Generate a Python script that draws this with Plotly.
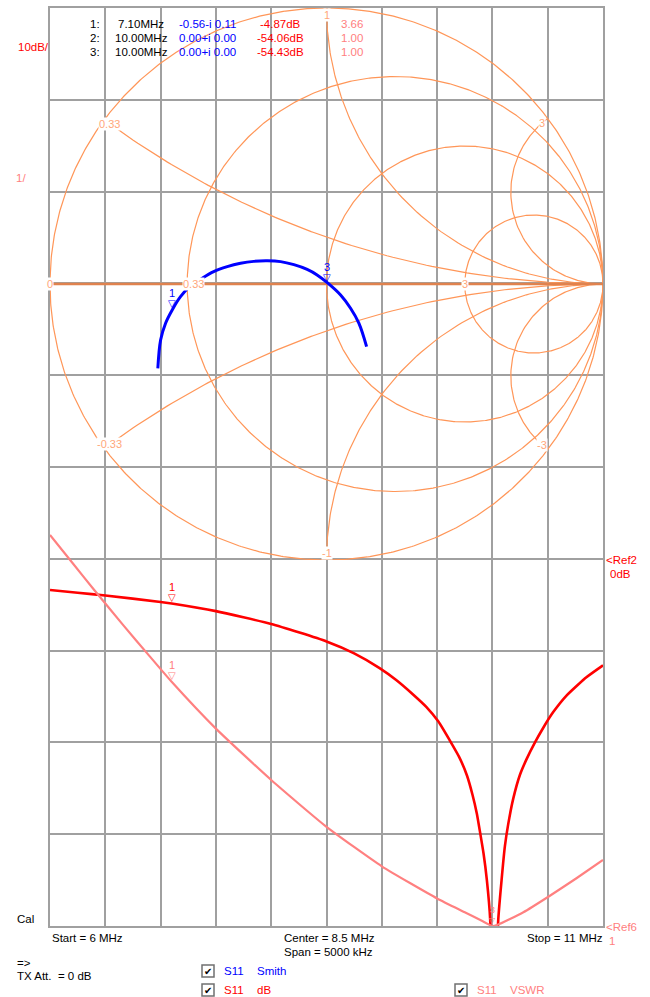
import numpy as np
import plotly.graph_objects as go

# ---------------- data ----------------
# S11 return loss (dB) vs frequency (MHz)
freq_db = [6.0, 6.25, 6.5, 7.0, 7.1, 7.5, 8.0, 8.5, 8.75, 8.98, 9.13, 9.285, 9.4, 9.51, 9.63, 9.70,
           9.77, 9.82, 9.86, 9.89, 9.92, 9.95, 9.98, 10.0, 10.053, 10.083, 10.113, 10.143, 10.189,
           10.25, 10.31, 10.385, 10.46, 10.55, 10.67, 10.85, 11.0]
s11_db = [-3.4, -3.7, -4.0, -4.7, -4.87, -5.7, -7.1, -9.0, -10.3, -11.9, -13.2, -14.8, -16.1, -17.7,
          -20.1, -21.6, -23.6, -25.7, -27.8, -29.9, -32.1, -35.0, -39.3, -54.06, -39.3, -35.0,
          -31.3, -28.9, -26.1, -23.5, -21.8, -20.0, -18.4, -16.7, -14.9, -12.9, -11.6]

# S11 VSWR vs frequency (MHz)
freq_vswr = [6.0, 6.2, 6.4, 6.66, 6.9, 7.1, 7.5, 8.0, 8.5, 9.0, 9.5, 9.75, 9.9, 10.0,
             10.04, 10.28, 10.52, 10.76, 11.0]
vswr = [5.26, 4.96, 4.66, 4.28, 3.94, 3.66, 3.15, 2.59, 2.08, 1.65, 1.30, 1.15, 1.06, 1.0,
        1.01, 1.15, 1.33, 1.52, 1.72]

# S11 reflection coefficient on the Smith chart
smith_freq = [6.0, 6.5, 6.85, 7.1, 7.45, 7.75, 7.95, 8.2, 8.45, 8.65, 8.9, 9.05, 9.28, 9.47,
              9.68, 9.8, 10.0, 10.2, 10.45, 10.7, 11.0]
gamma_re = [-0.610, -0.600, -0.582, -0.558, -0.528, -0.492, -0.456, -0.408, -0.359, -0.311,
            -0.263, -0.214, -0.166, -0.118, -0.070, -0.034, 0.005, 0.051, 0.087, 0.117, 0.145]
gamma_im = [-0.306, -0.203, -0.142, -0.094, -0.046, -0.007, 0.017, 0.045, 0.063, 0.075,
            0.082, 0.084, 0.081, 0.070, 0.053, 0.033, 0.003, -0.040, -0.088, -0.142, -0.227]

# marker table
marker_ids = [1, 2, 3]
marker_freq = [7.10, 10.00, 10.00]
marker_re = [-0.56, 0.00, 0.00]
marker_im = [-0.11, 0.00, 0.00]
marker_db = [-4.87, -54.06, -54.43]
marker_vswr = [3.66, 1.00, 1.00]

# Smith chart grid values
smith_r = [0.33, 1, 3]
smith_x = [0.33, 1, 3]
smith_r_labels = ["0", "0.33", "3"]
smith_x_labels = ["0.33", "1", "3"]

# axes
freq_start, freq_stop, freq_step = 6.0, 11.0, 0.5
db_bottom, db_top, db_step = -40, 60, 10
vswr_bottom, vswr_top = 1, 11

# ---------------- styling / layout helpers ----------------
W, H = 650, 997
FONT = "Liberation Sans, Arial, sans-serif"
GRID = "#a0a0a0"
SMITH_COL = "#ff9658"
AXIS_COL = "#e0824e"
LBL_COL = "#ffa77a"
BLUE = "#0000ff"
RED = "#ff0000"
PINK = "#ff8080"


def px(x):
    return x / W


def py(y):
    return 1 - y / H


X0, X1 = px(50), px(603)
Y_TOP, Y_BOT = py(8), py(926)
SMITH_BOT = py(560)

fig = go.Figure()

# ---- Smith chart grid ----
gx, gy = [], []
th = np.linspace(0, 2 * np.pi, 721)
for r in [0] + smith_r:
    c, rad = r / (1 + r), 1 / (1 + r)
    gx += list(c + rad * np.cos(th)) + [None]
    gy += list(rad * np.sin(th)) + [None]
rr = np.concatenate([np.linspace(0, 1, 80), np.logspace(0, 4, 200)])
for xv in smith_x:
    for s in (1, -1):
        z = rr + 1j * s * xv
        g = (z - 1) / (z + 1)
        gx += list(g.real) + [1.0, None]
        gy += list(g.imag) + [0.0, None]
fig.add_trace(go.Scatter(x=gx, y=gy, xaxis="x2", yaxis="y3", mode="lines",
                         line=dict(color=SMITH_COL, width=1.2), hoverinfo="skip"))
fig.add_trace(go.Scatter(x=[-1, 1], y=[0, 0], xaxis="x2", yaxis="y3", mode="lines",
                         line=dict(color=AXIS_COL, width=2.5), hoverinfo="skip"))

# ---- S11 dB and VSWR ----
fig.add_trace(go.Scatter(x=freq_vswr, y=vswr, xaxis="x", yaxis="y2", mode="lines",
                         line=dict(color=PINK, width=2.2, shape="spline", smoothing=0.5)))
fig.add_trace(go.Scatter(x=freq_db, y=s11_db, xaxis="x", yaxis="y", mode="lines",
                         line=dict(color=RED, width=2.6, shape="spline", smoothing=0.5)))

# ---- Smith trace ----
fig.add_trace(go.Scatter(x=gamma_re, y=gamma_im, xaxis="x2", yaxis="y3", mode="lines",
                         line=dict(color=BLUE, width=3, shape="spline")))

ann = []


def text(t, x, y, color="black", anchor="left", size=11.5):
    ann.append(dict(text=t, x=px(x), y=py(y), xref="paper", yref="paper",
                    xanchor=anchor, yanchor="middle", showarrow=False,
                    font=dict(family=FONT, size=size, color=color)))


# Smith labels
for r, lab in zip([0] + smith_r[::2], smith_r_labels):
    g = (r - 1) / (r + 1)
    ann.append(dict(text=lab, x=g, y=0, xref="x2", yref="y3", showarrow=False,
                    xshift=6 if lab == "0.33" else 0,
                    font=dict(family=FONT, size=11, color=LBL_COL), bgcolor="white", borderpad=0))
for xv, lab in zip(smith_x, smith_x_labels):
    for s in (1, -1):
        z = 1j * s * xv
        g = (z - 1) / (z + 1) * 0.975
        ann.append(dict(text=lab if s > 0 else "-" + lab, x=g.real, y=g.imag, xref="x2", yref="y3",
                        showarrow=False, font=dict(family=FONT, size=11, color=LBL_COL),
                        bgcolor="white", borderpad=0))


def marker(label, x, y, xref, yref, color, size=10):
    ann.append(dict(text="▽", x=x, y=y, xref=xref, yref=yref, showarrow=False,
                    yanchor="bottom", yshift=-1, font=dict(family="DejaVu Sans", size=size, color=color)))
    ann.append(dict(text=label, x=x, y=y, xref=xref, yref=yref, showarrow=False,
                    yanchor="bottom", yshift=9, font=dict(family=FONT, size=size + 1, color=color)))


i1 = smith_freq.index(marker_freq[0])
marker("1", gamma_re[i1], gamma_im[i1], "x2", "y3", BLUE)
marker("3", marker_re[2], marker_im[2], "x2", "y3", BLUE)
marker("1", marker_freq[0], marker_db[0], "x", "y", RED)
marker("1", marker_freq[0], marker_vswr[0], "x", "y2", PINK)
marker("3", marker_freq[2], marker_vswr[2], "x", "y2", PINK, size=8)

# marker table
for i, mid in enumerate(marker_ids):
    y = 24 + 14 * i
    text(f"{mid}:", 102, y, anchor="right")
    text(f"{marker_freq[i]:.2f}MHz", 141, y, anchor="center")
    sign = "+" if marker_im[i] >= 0 else "-"
    text(f"{marker_re[i]:.2f}{sign}i {abs(marker_im[i]):.2f}", 207, y, color=BLUE, anchor="center")
    text(f"{marker_db[i]:.2f}dB", 280, y, color=RED, anchor="center")
    text(f"{marker_vswr[i]:.2f}", 352, y, color=PINK, anchor="center")

# side / bottom labels
text("10dB/", 16, 47, color=RED)
text("1/", 14, 178, color=PINK)
text("<Ref2", 604, 560, color=RED)
text("0dB", 608, 574, color=RED)
text("<Ref6", 604, 927, color=PINK)
text("1", 607, 941, color=PINK)
text("Cal", 15, 919)
text(f"Start = {freq_start:g} MHz", 50, 938)
text(f"Center = {(freq_start + freq_stop) / 2:g} MHz", 282, 938)
text(f"Span = {(freq_stop - freq_start) * 1000:g} kHz", 282, 952)
text(f"Stop = {freq_stop:g} MHz", 605, 938, anchor="right")
text("=>", 15, 963)
text("TX Att.  = 0 dB", 15, 976)

shapes = []
for (bx, by, lab1, lab2, col) in [(202, 965, "S11", "Smith", BLUE),
                                  (202, 984, "S11", "dB", RED),
                                  (455, 984, "S11", "VSWR", PINK)]:
    shapes.append(dict(type="rect", xref="paper", yref="paper", x0=px(bx), x1=px(bx + 12),
                       y0=py(by + 12), y1=py(by), line=dict(color="#707070", width=1.5),
                       fillcolor="white"))
    text("✔", bx + 6, by + 6, anchor="center", size=10)
    text(lab1, bx + 20, by + 6, color=col)
    text(lab2, bx + 53, by + 6, color=col)

common = dict(showticklabels=False, zeroline=False, ticks="")
fig.update_layout(
    width=W, height=H, margin=dict(l=0, r=0, t=0, b=0),
    paper_bgcolor="white", plot_bgcolor="rgba(0,0,0,0)", showlegend=False,
    font=dict(family=FONT, size=11.5),
    xaxis=dict(domain=[X0, X1], range=[freq_start, freq_stop], tick0=freq_start, dtick=freq_step,
               showgrid=True, gridcolor=GRID, gridwidth=2, showline=True, mirror=True,
               linecolor=GRID, linewidth=2, anchor="y", **common),
    yaxis=dict(domain=[Y_BOT, Y_TOP], range=[db_bottom, db_top], tick0=db_bottom, dtick=db_step,
               showgrid=True, gridcolor=GRID, gridwidth=2, showline=True, mirror=True,
               linecolor=GRID, linewidth=2, anchor="x", **common),
    yaxis2=dict(overlaying="y", range=[vswr_bottom, vswr_top], showgrid=False, visible=False),
    xaxis2=dict(domain=[X0, X1], range=[-1, 1], visible=False, anchor="y3"),
    yaxis3=dict(domain=[SMITH_BOT, Y_TOP], range=[-1, 1], visible=False, anchor="x2"),
    annotations=ann, shapes=shapes,
)

fig.write_html("out.html", config={"displayModeBar": False},
               post_script="document.body.style.margin='0';document.body.style.overflow='hidden';")
